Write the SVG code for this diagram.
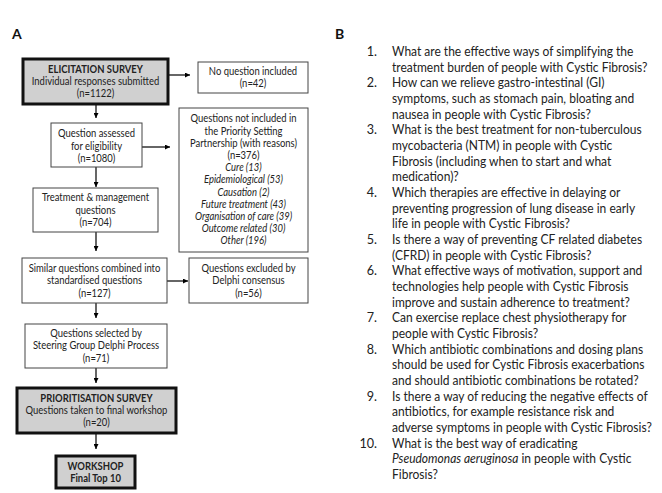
<svg xmlns="http://www.w3.org/2000/svg" width="662" height="493" viewBox="0 0 662 493">
<defs>
<marker id="ah" viewBox="0 0 10 10" refX="10" refY="5" markerWidth="5" markerHeight="5" orient="auto" markerUnits="userSpaceOnUse"><path d="M0,0 L10,5 L0,10 z" fill="#000"/></marker>
<style>
.t{font-family:Lato,"Liberation Sans",sans-serif;font-size:10.5px;fill:#222;text-anchor:middle}
.b{font-weight:bold}
.i{font-style:italic}
.box{fill:#fff;stroke:#444;stroke-width:1}
.thick{fill:#d0d0d0;stroke:#111;stroke-width:3}
.c{stroke:#000;stroke-width:1.2;fill:none;marker-end:url(#ah)}
.lbl{font-family:Lato,"Liberation Sans",sans-serif;font-size:14px;font-weight:bold;fill:#111}
.q{font-family:Lato,"Liberation Sans",sans-serif;font-size:12.6px;fill:#222}
</style>
</defs>
<rect width="662" height="493" fill="#fff"/>
<text class="lbl" x="12" y="39">A</text>
<text class="lbl" x="335" y="39">B</text>

<g id="connectors">
<line class="c" x1="168" y1="75" x2="190" y2="75"/>
<line class="c" x1="96" y1="104" x2="96" y2="118"/>
<line class="c" x1="142" y1="147" x2="170" y2="147"/>
<line class="c" x1="96" y1="167" x2="96" y2="187"/>
<line class="c" x1="96" y1="232" x2="96" y2="251"/>
<line class="c" x1="167" y1="281" x2="188" y2="281"/>
<line class="c" x1="96" y1="303" x2="96" y2="318"/>
<line class="c" x1="96" y1="368" x2="96" y2="383"/>
<line class="c" x1="96" y1="433" x2="96" y2="449"/>
</g>

<g id="elicitation">
<rect class="thick" x="23" y="59" width="145" height="45"/>
<g transform="translate(95.5,0) scale(0.9,1)">
<text class="t b" x="0" y="73.5">ELICITATION SURVEY</text>
<text class="t" x="0" y="85.5">Individual responses submitted</text>
<text class="t" x="0" y="97.5">(n=1122)</text>
</g>
</g>
<g id="no-question">
<rect class="box" x="198" y="62" width="110" height="31"/>
<g transform="translate(253,0) scale(0.9,1)">
<text class="t" x="0" y="75.5">No question included</text>
<text class="t" x="0" y="87">(n=42)</text>
</g>
</g>
<g id="assessed">
<rect class="box" x="51" y="123" width="91" height="44"/>
<g transform="translate(96.5,0) scale(0.9,1)">
<text class="t" x="0" y="137.5">Question assessed</text>
<text class="t" x="0" y="150">for eligibility</text>
<text class="t" x="0" y="162">(n=1080)</text>
</g>
</g>
<g id="not-included">
<rect class="box" x="179" y="108" width="129" height="144"/>
<g transform="translate(243.5,0) scale(0.9,1)">
<text class="t" x="0" y="122.5">Questions not included in</text>
<text class="t" x="0" y="134.7">the Priority Setting</text>
<text class="t" x="0" y="146.9">Partnership (with reasons)</text>
<text class="t" x="0" y="159.1">(n=376)</text>
<text class="t i" x="0" y="171.3">Cure (13)</text>
<text class="t i" x="0" y="183.5">Epidemiological (53)</text>
<text class="t i" x="0" y="195.7">Causation (2)</text>
<text class="t i" x="0" y="207.9">Future treatment (43)</text>
<text class="t i" x="0" y="220.1">Organisation of care (39)</text>
<text class="t i" x="0" y="232.3">Outcome related (30)</text>
<text class="t i" x="0" y="244.5">Other (196)</text>
</g>
</g>
<g id="treatment">
<rect class="box" x="33" y="188" width="125" height="44"/>
<g transform="translate(95.5,0) scale(0.9,1)">
<text class="t" x="0" y="201.5">Treatment &amp; management</text>
<text class="t" x="0" y="214">questions</text>
<text class="t" x="0" y="226.5">(n=704)</text>
</g>
</g>
<g id="similar">
<rect class="box" x="22" y="258" width="145" height="45"/>
<g transform="translate(94.5,0) scale(0.9,1)">
<text class="t" x="0" y="272.5">Similar questions combined into</text>
<text class="t" x="0" y="284.5">standardised questions</text>
<text class="t" x="0" y="297.5">(n=127)</text>
</g>
</g>
<g id="excluded">
<rect class="box" x="189" y="258" width="119" height="45"/>
<g transform="translate(248.5,0) scale(0.9,1)">
<text class="t" x="0" y="272.5">Questions excluded by</text>
<text class="t" x="0" y="284.5">Delphi consensus</text>
<text class="t" x="0" y="297.5">(n=56)</text>
</g>
</g>
<g id="selected">
<rect class="box" x="25" y="324" width="142" height="44"/>
<g transform="translate(96,0) scale(0.9,1)">
<text class="t" x="0" y="337.5">Questions selected by</text>
<text class="t" x="0" y="349.5">Steering Group Delphi Process</text>
<text class="t" x="0" y="362.5">(n=71)</text>
</g>
</g>
<g id="prioritisation">
<rect class="thick" x="17" y="388" width="159" height="45"/>
<g transform="translate(96.5,0) scale(0.9,1)">
<text class="t b" x="0" y="402.5">PRIORITISATION SURVEY</text>
<text class="t" x="0" y="414.5">Questions taken to final workshop</text>
<text class="t" x="0" y="426.5">(n=20)</text>
</g>
</g>
<g id="workshop">
<rect class="thick" x="56" y="456" width="79" height="32"/>
<g transform="translate(95.5,0) scale(0.9,1)">
<text class="t b" x="0" y="470.5">WORKSHOP</text>
<text class="t b" x="0" y="482.5">Final Top 10</text>
</g>
</g>

<g id="top10" class="q">
<g text-anchor="end">
<text x="377" y="56">1.</text>
<text x="377" y="87.3">2.</text>
<text x="377" y="134.3">3.</text>
<text x="377" y="197">4.</text>
<text x="377" y="244">5.</text>
<text x="377" y="275.3">6.</text>
<text x="377" y="322.3">7.</text>
<text x="377" y="353.7">8.</text>
<text x="377" y="400.7">9.</text>
<text x="377" y="447.7">10.</text>
</g>
<g transform="translate(392,0) scale(0.955,1)">
<text x="0" y="56">What are the effective ways of simplifying the</text>
<text x="0" y="71.7">treatment burden of people with Cystic Fibrosis?</text>
<text x="0" y="87.3">How can we relieve gastro-intestinal (GI)</text>
<text x="0" y="103">symptoms, such as stomach pain, bloating and</text>
<text x="0" y="118.7">nausea in people with Cystic Fibrosis?</text>
<text x="0" y="134.3">What is the best treatment for non-tuberculous</text>
<text x="0" y="150">mycobacteria (NTM) in people with Cystic</text>
<text x="0" y="165.7">Fibrosis (including when to start and what</text>
<text x="0" y="181.3">medication)?</text>
<text x="0" y="197">Which therapies are effective in delaying or</text>
<text x="0" y="212.7">preventing progression of lung disease in early</text>
<text x="0" y="228.3">life in people with Cystic Fibrosis?</text>
<text x="0" y="244">Is there a way of preventing CF related diabetes</text>
<text x="0" y="259.7">(CFRD) in people with Cystic Fibrosis?</text>
<text x="0" y="275.3">What effective ways of motivation, support and</text>
<text x="0" y="291">technologies help people with Cystic Fibrosis</text>
<text x="0" y="306.7">improve and sustain adherence to treatment?</text>
<text x="0" y="322.3">Can exercise replace chest physiotherapy for</text>
<text x="0" y="338">people with Cystic Fibrosis?</text>
<text x="0" y="353.7">Which antibiotic combinations and dosing plans</text>
<text x="0" y="369.3">should be used for Cystic Fibrosis exacerbations</text>
<text x="0" y="385">and should antibiotic combinations be rotated?</text>
<text x="0" y="400.7">Is there a way of reducing the negative effects of</text>
<text x="0" y="416.3">antibiotics, for example resistance risk and</text>
<text x="0" y="432">adverse symptoms in people with Cystic Fibrosis?</text>
<text x="0" y="447.7">What is the best way of eradicating</text>
<text x="0" y="463.3"><tspan font-style="italic">Pseudomonas aeruginosa</tspan> in people with Cystic</text>
<text x="0" y="479">Fibrosis?</text>
</g>
</g>
</svg>
